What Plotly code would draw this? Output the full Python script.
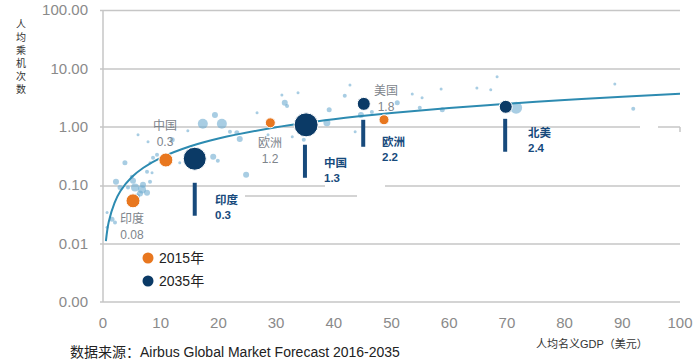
import math
import plotly.graph_objects as go

# ---------------- data ----------------
curve_x = [0.5, 1, 2, 3, 5, 7, 10, 15, 20, 30, 40, 50, 60, 70, 80, 90, 100]
curve_y = [0.011, 0.0236, 0.050, 0.079, 0.138, 0.199, 0.294, 0.459, 0.629, 0.981,
           1.345, 1.716, 2.096, 2.482, 2.874, 3.27, 3.67]

other_x = [17.3, 19.4, 20.6, 22.0, 23.2, 23.7, 19.1, 19.9, 24.8, 31.5, 31.9, 39.2, 41.9, 38.8,
           34.8, 43.7, 44.7, 46.6, 51.0, 54.9, 58.8, 58.6, 71.6, 91.9, 88.7,
           2.25, 2.95, 5.2, 5.55, 6.76, 6.93, 6.41, 7.63, 5.9, 4.33, 3.8, 8.15, 7.63, 8.5, 8.15,
           0.7, 1.56, 2.08, 0.7, 5.0, 8.67, 9.36, 12.0,
           6.07, 7.8, 13.3, 14.7, 26.7, 28.6, 32.8, 31.0, 33.8, 42.8, 53.6, 55.3, 64.8, 67.2, 68.3]
other_y = [1.13, 1.60, 1.13, 0.82, 0.79, 0.62, 0.307, 0.262, 0.151, 2.57, 2.28, 1.95, 3.39, 1.17,
           0.60, 0.82, 1.60, 1.80, 2.57, 2.11, 1.95, 4.46, 2.11, 2.03, 5.43,
           0.115, 0.091, 0.119, 0.091, 0.084, 0.102, 0.072, 0.074, 0.064, 0.091, 0.243, 0.115, 0.170, 0.163, 0.243,
           0.034, 0.026, 0.023, 0.019, 0.14, 0.295, 0.332, 0.60,
           0.73, 0.554, 0.243, 0.854, 1.74, 0.73, 0.675, 3.52, 3.81, 5.22, 3.66, 3.13, 4.64, 4.29, 7.16]
other_size = [10, 6, 10, 4, 5, 6, 6, 4, 6, 6, 4, 5, 4, 7,
              4, 3, 6, 4, 5, 4, 5, 3, 12, 4, 3,
              6, 5, 6, 8, 8, 6, 6, 6, 6, 4, 5, 4, 4, 3, 3,
              3, 5, 4, 3, 4, 4, 4, 5,
              3, 3, 3, 3, 3, 3, 3, 3, 3, 3, 3, 3, 3, 3, 3]

y2015_x = [5.2, 10.9, 29.0, 48.7]
y2015_y = [0.054, 0.27, 1.17, 1.32]
y2015_size = [14, 14, 10, 10]
y2015_names = ["印度", "中国", "欧洲", "美国"]
y2015_values = ["0.08", "0.3", "1.2", "1.8"]

y2035_x = [15.9, 35.2, 45.2, 69.8]
y2035_y = [0.284, 1.08, 2.47, 2.20]
y2035_size = [23, 24, 13, 13]
y2035_names = ["印度", "中国", "欧洲", "北美"]
y2035_values = ["0.3", "1.3", "2.2", "2.4"]

bar_x = [15.9, 35.0, 45.1, 69.7]
bar_top = [0.110, 0.493, 1.318, 1.37]
bar_bottom = [0.030, 0.134, 0.455, 0.374]

y_tickvals = [0.001, 0.01, 0.1, 1, 10, 100]
y_ticktext = ["0.00", "0.01", "0.10", "1.00", "10.00", "100.00"]
x_tickvals = [0, 10, 20, 30, 40, 50, 60, 70, 80, 90, 100]

legend_labels = ["2015年", "2035年"]
y_title = "人均乘机次数"
x_title = "人均名义GDP（美元）"
source_text = "数据来源：Airbus Global Market Forecast 2016-2035"

# ---------------- styles ----------------
ORANGE = "#e8771f"
NAVY = "#0b3a66"
BAR = "#174a7c"
TEAL = "#2d8bb1"
BUBBLE = "rgba(110,172,208,0.6)"
GREY = "#7d848b"
GRID = "#c6c6c6"
FONT = "Liberation Sans, Arial, Noto Sans CJK SC, sans-serif"

W, H = 700, 362
PX0, PX1, PY0, PY1 = 103, 680, 10, 302  # plot area in pixels
L, R, T, B = PX0, W - PX1, PY0, H - PY1
PW, PH = PX1 - PX0, PY1 - PY0


def P(xp, yp):
    return (xp - PX0) / PW, (PY1 - yp) / PH


fig = go.Figure()

fig.add_trace(go.Scatter(x=other_x, y=other_y, mode="markers",
                         marker=dict(size=other_size, color=BUBBLE, opacity=1, line=dict(width=0)),
                         hoverinfo="skip"))
fig.add_trace(go.Scatter(x=curve_x, y=curve_y, mode="lines", line=dict(color=TEAL, width=2, shape="spline"),
                         hoverinfo="skip"))
fig.add_trace(go.Scatter(x=y2015_x, y=y2015_y, mode="markers", name=legend_labels[0],
                         marker=dict(size=y2015_size, color=ORANGE, opacity=1, line=dict(color="white", width=1))))
fig.add_trace(go.Scatter(x=y2035_x, y=y2035_y, mode="markers", name=legend_labels[1],
                         marker=dict(size=y2035_size, color=NAVY, opacity=1, line=dict(color="white", width=1))))

bx, by = [], []
for x, t, b in zip(bar_x, bar_top, bar_bottom):
    bx += [x, x, None]
    by += [t, b, None]
fig.add_trace(go.Scatter(x=bx, y=by, mode="lines", line=dict(color=BAR, width=4), hoverinfo="skip"))

shapes = []


def seg(x0, y0, x1, y1):
    a0, b0 = P(x0, y0)
    a1, b1 = P(x1, y1)
    shapes.append(dict(type="line", xref="paper", yref="paper", x0=a0, x1=a1, y0=b0, y1=b1,
                       line=dict(color=GRID, width=1.5), layer="below"))


for x0, x1, y in [(100, 680, 10.5), (100, 680, 69), (100, 640, 127), (658, 680, 127),
                  (100, 325, 186), (245, 357, 196), (385, 680, 186), (100, 680, 244), (100, 680, 302)]:
    seg(x0, y, x1, y)
seg(103, 10, 103, 302)
seg(680, 127, 680, 132)

# legend markers
for (xp, yp), col in zip([(148, 258), (148, 281)], [ORANGE, NAVY]):
    a, b = P(xp, yp)
    shapes.append(dict(type="circle", xref="paper", yref="paper", xsizemode="pixel", ysizemode="pixel",
                       xanchor=a, yanchor=b, x0=-5.5, x1=5.5, y0=-5.5, y1=5.5,
                       fillcolor=col, line=dict(width=0)))

ann = []


def text(xp, yp, s, size=12, color="#333", xanchor="center", bold=False, align="center"):
    a, b = P(xp, yp)
    if bold:
        s = "<b>" + s.replace("<br>", "</b><br><b>") + "</b>"
    ann.append(dict(x=a, y=b, xref="paper", yref="paper", text=s, showarrow=False, align=align,
                    xanchor=xanchor, yanchor="middle", borderpad=0,
                    font=dict(size=size, color=color, family=FONT)))


# 2015 labels (grey), centered blocks
pos2015 = [(132, 226.5), (165, 133), (270, 151), (385.5, 99.5)]
for (xp, yp), n, v in zip(pos2015, y2015_names, y2015_values):
    text(xp, yp, n + "<br>" + v, 12, GREY)

# 2035 labels (navy bold), left aligned blocks
pos2035 = [(214, 206.5), (323, 169.5), (381, 149), (527, 140)]
for (xp, yp), n, v in zip(pos2035, y2035_names, y2035_values):
    text(xp, yp, n + "<br>" + v, 11.5, BAR, xanchor="left", bold=True, align="left")

# legend text
text(158, 258, legend_labels[0], 14, "#222", xanchor="left")
text(158, 281, legend_labels[1], 14, "#222", xanchor="left")

# y title stacked
text(21, 57, "<br>".join(list(y_title)), 10, "#333")

# x title and source
text(592, 343, x_title, 11, "#333")
text(69, 352, source_text, 14, "#222", xanchor="left")

fig.update_layout(
    width=W, height=H, autosize=False,
    margin=dict(l=L, r=R, t=T, b=B, pad=0),
    paper_bgcolor="white", plot_bgcolor="white",
    showlegend=False,
    shapes=shapes, annotations=ann,
    font=dict(family=FONT),
)
fig.update_xaxes(range=[0, 100], tickvals=x_tickvals, showgrid=False, zeroline=False, showline=False,
                 automargin=False, ticks="", ticklabelstandoff=10, ticklabeloverflow="allow",
                 tickfont=dict(size=15, color="#8a8a8a", family=FONT))
fig.update_yaxes(type="log", range=[-3, 2], tickvals=y_tickvals, ticktext=y_ticktext, showgrid=False,
                 automargin=False, zeroline=False, showline=False, ticks="", ticklabelstandoff=14,
                 ticklabeloverflow="allow",
                 tickfont=dict(size=15, color="#8a8a8a", family=FONT))

fig.write_html("out.html", config={"displayModeBar": False},
               post_script="document.body.style.margin='0';document.body.style.overflow='hidden';")
